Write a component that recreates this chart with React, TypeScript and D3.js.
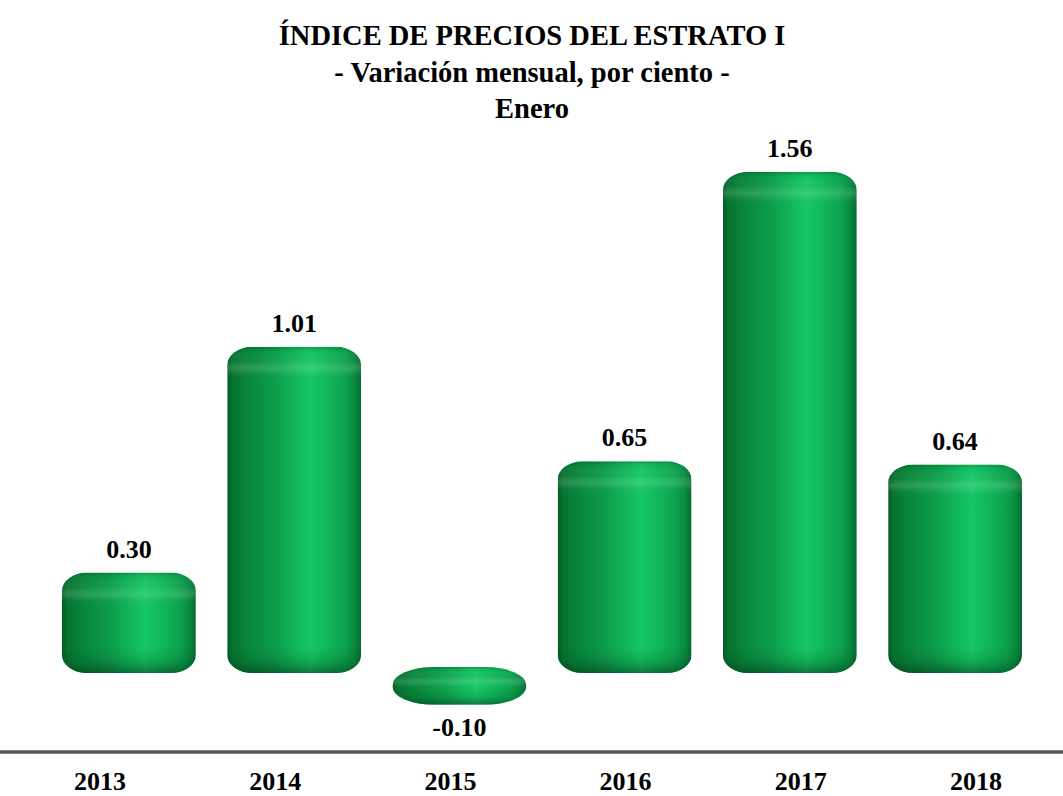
import React from "react";
import * as d3 from "d3";

const years = ["2013", "2014", "2015", "2016", "2017", "2018"];
const values = [0.3, 1.01, -0.1, 0.65, 1.56, 0.64];
const valueLabels = ["0.30", "1.01", "-0.10", "0.65", "1.56", "0.64"];
const titleLines = [
  "ÍNDICE DE PRECIOS DEL ESTRATO I",
  "- Variación mensual, por ciento -",
  "Enero",
];

const W = 1063;
const H = 796;
const FONT = "Liberation Serif, Times New Roman, Times, serif";

export default function App() {
  const x = d3.scaleBand<string>().domain(years).range([62, 1022]).paddingInner(0.19).paddingOuter(0);
  const xLab = d3.scalePoint<string>().domain(years).range([100, 976]);
  const y = d3.scaleLinear().domain([0, 1.56]).range([668, 172]);
  const y0 = y(0);

  const bars = years.map((yr, i) => {
    const v = values[i];
    const left = x(yr) as number;
    const w = x.bandwidth();
    let top: number, bottom: number;
    if (v >= 0) {
      top = y(v);
      bottom = y0 + 5;
    } else {
      top = y0 - 1;
      bottom = y(v) + 5;
    }
    const h = bottom - top;
    return { yr, v, left, w, top, bottom, h, i };
  });

  return (
    <svg width={W} height={H} style={{ position: "absolute", left: 0, top: 0, background: "#fff" }}>
      <defs>
        <linearGradient id="hGrad" x1="0" y1="0" x2="1" y2="0">
          <stop offset="0" stopColor="#035a28" />
          <stop offset="0.04" stopColor="#06722f" />
          <stop offset="0.14" stopColor="#08843a" />
          <stop offset="0.35" stopColor="#0c9c4a" />
          <stop offset="0.52" stopColor="#12b85c" />
          <stop offset="0.62" stopColor="#17c667" />
          <stop offset="0.72" stopColor="#12bb5d" />
          <stop offset="0.88" stopColor="#0ca24e" />
          <stop offset="0.95" stopColor="#088a3f" />
          <stop offset="1" stopColor="#056a30" />
        </linearGradient>
        <linearGradient id="topGrad" x1="0" y1="0" x2="0" y2="1">
          <stop offset="0" stopColor="#003a18" stopOpacity="0.3" />
          <stop offset="0.12" stopColor="#0a7a38" stopOpacity="0.1" />
          <stop offset="0.4" stopColor="#ffffff" stopOpacity="0.03" />
          <stop offset="0.62" stopColor="#c8ffdc" stopOpacity="0.17" />
          <stop offset="0.8" stopColor="#ffffff" stopOpacity="0.04" />
          <stop offset="1" stopColor="#004a1e" stopOpacity="0" />
        </linearGradient>
        <linearGradient id="botGrad" x1="0" y1="0" x2="0" y2="1">
          <stop offset="0" stopColor="#003a18" stopOpacity="0" />
          <stop offset="0.5" stopColor="#003a18" stopOpacity="0.16" />
          <stop offset="0.85" stopColor="#002a10" stopOpacity="0.38" />
          <stop offset="1" stopColor="#002a10" stopOpacity="0.5" />
        </linearGradient>
        {bars.map((b) => {
          const rx = b.h < 60 ? 42 : 25;
          const ry = Math.min(18, b.h / 2);
          return (
            <clipPath id={`clip${b.i}`} key={b.yr}>
              <rect x={b.left} y={b.top} width={b.w} height={b.h} rx={rx} ry={ry} />
            </clipPath>
          );
        })}
      </defs>

      <g fontFamily={FONT} fontWeight="bold" fill="#000" textAnchor="middle">
        {titleLines.map((t, i) => (
          <text key={i} x={532} y={45 + i * 36.5} fontSize={28.5}>
            {t}
          </text>
        ))}
      </g>

      {bars.map((b) => {
        const topH = b.h < 60 ? b.h * 0.62 : 34;
        const botH = b.h < 60 ? b.h * 0.42 : 26;
        return (
          <g key={b.yr} clipPath={`url(#clip${b.i})`}>
            <rect x={b.left} y={b.top} width={b.w} height={b.h} fill="url(#hGrad)" />
            <rect x={b.left} y={b.top} width={b.w} height={topH} fill="url(#topGrad)" />
            <rect x={b.left} y={b.bottom - botH} width={b.w} height={botH} fill="url(#botGrad)" />
          </g>
        );
      })}

      <g fontFamily={FONT} fontWeight="bold" fill="#000" textAnchor="middle" fontSize={26}>
        {bars.map((b) => (
          <text key={b.yr} x={b.left + b.w / 2} y={b.v >= 0 ? b.top - 15 : b.bottom + 31}>
            {valueLabels[b.i]}
          </text>
        ))}
      </g>

      <line x1={0} x2={W} y1={y0 + 84} y2={y0 + 84} stroke="#555" strokeWidth={3.5} />

      <g fontFamily={FONT} fontWeight="bold" fill="#000" textAnchor="middle" fontSize={26}>
        {years.map((yr) => (
          <text key={yr} x={xLab(yr)} y={790}>
            {yr}
          </text>
        ))}
      </g>
    </svg>
  );
}
